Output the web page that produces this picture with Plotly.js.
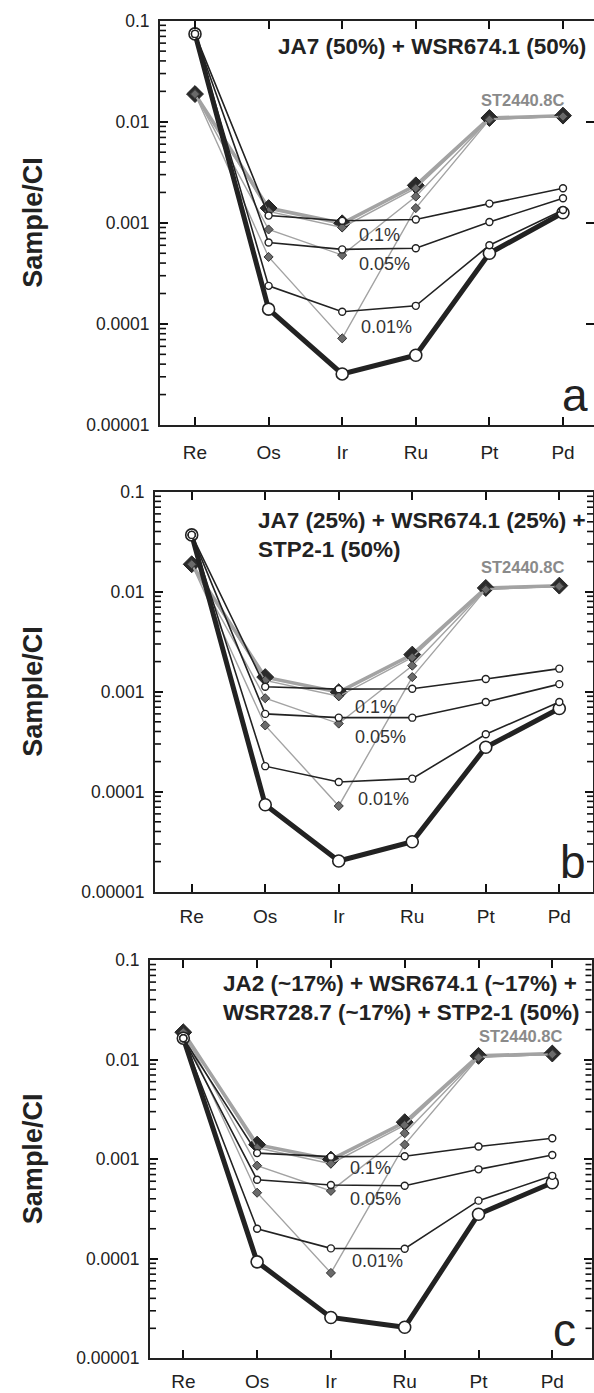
<!DOCTYPE html>
<html>
<head>
<meta charset="utf-8">
<script src="https://cdn.plot.ly/plotly-3.0.1.min.js"></script>
<style>html,body{margin:0;padding:0;background:#fff;}#chart{width:594px;height:1393px;}</style>
</head>
<body>
<div id="chart"></div>
<script>
// ---- data ----
const elements = ['Re', 'Os', 'Ir', 'Ru', 'Pt', 'Pd'];
const yTickVals = [0.00001, 0.0001, 0.001, 0.01, 0.1];
const yTickText = ['0.00001', '0.0001', '0.001', '0.01', '0.1'];

// ST2440.8C and its mixtures (grey, diamonds) – same in every panel
const st2440 = [0.0188, 0.0014, 0.00099, 0.00235, 0.0109, 0.0115];
const stMixA = [0.0188, 0.0013, 0.0009, 0.0022, 0.0107, 0.0113];
const stMixB = [0.0188, 0.00086, 0.00048, 0.00182, 0.0106, 0.0113];
const stMixC = [0.0188, 0.00046, 0.000072, 0.0014, 0.0105, 0.0113];

// Panel a: JA7 (50%) + WSR674.1 (50%)
const aMix = [0.074, 0.00014, 0.000032, 0.000049, 0.0005, 0.00126];
const aMix01 = [0.074, 0.00118, 0.00105, 0.00108, 0.00155, 0.0022];
const aMix005 = [0.074, 0.00064, 0.000546, 0.00056, 0.00102, 0.00175];
const aMix001 = [0.074, 0.000238, 0.000132, 0.000151, 0.0006, 0.00134];

// Panel b: JA7 (25%) + WSR674.1 (25%) + STP2-1 (50%)
const bMix = [0.037, 0.000074, 0.0000203, 0.0000316, 0.000278, 0.00068];
const bMix01 = [0.037, 0.00112, 0.00106, 0.00107, 0.00134, 0.0017];
const bMix005 = [0.037, 0.0006, 0.00055, 0.00055, 0.00079, 0.00119];
const bMix001 = [0.037, 0.00018, 0.000125, 0.000135, 0.000375, 0.00079];

// Panel c: JA2 + WSR674.1 + WSR728.7 + STP2-1
const cMix = [0.0164, 0.000093, 0.0000257, 0.0000205, 0.00028, 0.00058];
const cMix01 = [0.0164, 0.00115, 0.00106, 0.00107, 0.00134, 0.00162];
const cMix005 = [0.0164, 0.00062, 0.00055, 0.00054, 0.00079, 0.0011];
const cMix001 = [0.0164, 0.0002, 0.000127, 0.000126, 0.000383, 0.00068];

const panelTitles = [
  'JA7 (50%) + WSR674.1 (50%)',
  'JA7 (25%) + WSR674.1 (25%) +<br>STP2-1 (50%)',
  'JA2 (~17%) + WSR674.1 (~17%) +<br>WSR728.7 (~17%) + STP2-1 (50%)'
];
const panelLetters = ['a', 'b', 'c'];
const pctLabels = ['0.1%', '0.05%', '0.01%'];

// ---- minor log tick positions (2..9 in each decade) ----
const minorVals = [];
for (let e = -5; e < -1; e++) {
  for (let m = 2; m <= 9; m++) minorVals.push(m * Math.pow(10, e));
}

// ---- page geometry (pixels) ----
const W = 594, H = 1393;
const FONT = 'Liberation Sans, Arial, Helvetica, sans-serif';
const px = x => x / W;
const py = y => 1 - y / H;

const panels = [
  {mix: aMix, m01: aMix01, m005: aMix005, m001: aMix001,
   left: 160, right: 594, top: 20.7, bottom: 425, re: 195, step: 73.6, xstand: 9,
   title: {x: 588, y: 46, xanchor: 'right'},
   st: {x: 523, y: 100}, letter: {x: 575, y: 395},
   pct: [[357, 235], [357, 264], [359, 327]]},
  {mix: bMix, m01: bMix01, m005: bMix005, m001: bMix001,
   left: 155, right: 593, top: 491.7, bottom: 891.7, re: 191.7, step: 73.52, xstand: 6,
   title: {x: 256, y: 534.5, xanchor: 'left'},
   st: {x: 523, y: 567}, letter: {x: 573, y: 862},
   pct: [[353, 707], [353, 737], [356, 799]]},
  {mix: cMix, m01: cMix01, m005: cMix005, m001: cMix001,
   left: 150, right: 591.5, top: 960, bottom: 1358.3, re: 183.3, step: 73.8, xstand: 5,
   title: {x: 221, y: 998, xanchor: 'left'},
   st: {x: 521, y: 1036}, letter: {x: 564, y: 1330},
   pct: [[348, 1168], [348, 1199], [350, 1261]]}
];

const traces = [];
const layout = {
  width: W, height: H,
  margin: {l: 0, r: 0, t: 0, b: 0},
  paper_bgcolor: '#fff', plot_bgcolor: 'rgba(0,0,0,0)',
  showlegend: false,
  font: {family: FONT, color: '#222'},
  annotations: [],
  shapes: []
};

const DARK = '#222';
const GREY = '#a3a3a3';

panels.forEach((p, i) => {
  const n = i === 0 ? '' : String(i + 1);
  const xa = 'x' + n, ya = 'y' + n;
  const xr0 = (p.left - p.re) / p.step;
  const xr1 = (p.right - p.re) / p.step;

  layout['xaxis' + n] = {
    domain: [px(p.left), Math.min(1, px(p.right))],
    anchor: ya,
    type: 'category',
    range: [xr0, xr1],
    showgrid: false, zeroline: false,
    showline: true, linecolor: DARK, linewidth: 2,
    mirror: 'allticks', ticks: 'inside', ticklen: 8, tickwidth: 2, tickcolor: '#111',
    ticklabelstandoff: p.xstand,
    tickfont: {family: FONT, size: 19, color: DARK},
    layer: 'above traces',
    fixedrange: true
  };
  layout['yaxis' + n] = {
    domain: [py(p.bottom), py(p.top)],
    anchor: xa,
    type: 'log',
    range: [-5, -1],
    tickmode: 'array', tickvals: yTickVals, ticktext: yTickText,
    showgrid: false, zeroline: false,
    showline: true, linecolor: DARK, linewidth: 2,
    mirror: 'allticks', ticks: 'inside', ticklen: 8, tickwidth: 2, tickcolor: '#111',
    ticklabelstandoff: 5,
    tickfont: {family: FONT, size: 17.5, color: DARK},
    layer: 'above traces',
    fixedrange: true
  };

  // minor log tick marks (axis furniture), placed on the axis' own log scale
  const hPx = p.bottom - p.top;
  minorVals.forEach(v => {
    const yPix = p.top + (-1 - Math.log10(v)) / 4 * hPx;
    layout.shapes.push({type: 'line', xref: 'paper', yref: 'paper', layer: 'above',
      x0: px(p.left), x1: px(p.left + 6), y0: py(yPix), y1: py(yPix),
      line: {color: '#111', width: 1.6}});
    if (p.right < W) {
      layout.shapes.push({type: 'line', xref: 'paper', yref: 'paper', layer: 'above',
        x0: px(p.right), x1: px(p.right - 6), y0: py(yPix), y1: py(yPix),
        line: {color: '#111', width: 1.6}});
    }
  });

  const common = {x: elements, xaxis: xa, yaxis: ya, mode: 'lines+markers', hoverinfo: 'skip'};

  // ST2440.8C (thick grey with large dark diamonds)
  traces.push(Object.assign({}, common, {
    y: st2440, line: {color: GREY, width: 3.5},
    marker: {symbol: 'diamond', size: 13, color: '#2a2a2a', line: {color: '#222', width: 1}}
  }));
  // grey mixing lines with small diamonds
  [stMixA, stMixB, stMixC].forEach(arr => {
    traces.push(Object.assign({}, common, {
      y: arr, line: {color: GREY, width: 1.4},
      marker: {symbol: 'diamond', size: 7, color: '#6a6a6a', line: {color: '#333', width: 1}}
    }));
  });
  // thick black mixture with large open circles
  traces.push(Object.assign({}, common, {
    y: p.mix, line: {color: DARK, width: 5},
    marker: {symbol: 'circle', size: 12, color: '#fff', line: {color: DARK, width: 1.6}}
  }));
  // thin black lines with small open circles
  [p.m01, p.m005, p.m001].forEach(arr => {
    traces.push(Object.assign({}, common, {
      y: arr, line: {color: DARK, width: 1.6},
      marker: {symbol: 'circle', size: 7, color: '#fff', line: {color: DARK, width: 1.4}}
    }));
  });

  // y-axis title
  layout.annotations.push({
    xref: 'paper', yref: 'paper', x: px(33), y: py((p.top + p.bottom) / 2),
    text: '<b>Sample/CI</b>', textangle: -90, showarrow: false,
    xanchor: 'center', yanchor: 'middle',
    font: {family: FONT, size: 27, color: DARK}
  });
  // mixture title
  layout.annotations.push({
    xref: 'paper', yref: 'paper', x: px(p.title.x), y: py(p.title.y),
    text: '<b>' + panelTitles[i] + '</b>', showarrow: false,
    xanchor: p.title.xanchor, yanchor: 'middle', align: 'left',
    font: {family: FONT, size: 22.5, color: DARK}
  });
  // ST2440.8C label
  layout.annotations.push({
    xref: 'paper', yref: 'paper', x: px(p.st.x), y: py(p.st.y),
    text: '<b>ST2440.8C</b>', showarrow: false,
    xanchor: 'center', yanchor: 'middle',
    font: {family: FONT, size: 16.5, color: '#8a8a8a'}
  });
  // percent labels
  pctLabels.forEach((t, k) => {
    layout.annotations.push({
      xref: 'paper', yref: 'paper', x: px(p.pct[k][0]), y: py(p.pct[k][1]),
      text: t, showarrow: false, xanchor: 'left', yanchor: 'middle',
      font: {family: FONT, size: 18, color: '#333'}
    });
  });
  // panel letter
  layout.annotations.push({
    xref: 'paper', yref: 'paper', x: px(p.letter.x), y: py(p.letter.y),
    text: panelLetters[i], showarrow: false, xanchor: 'center', yanchor: 'middle',
    font: {family: FONT, size: 46, color: DARK}
  });
});

Plotly.newPlot('chart', traces, layout, {staticPlot: true, displayModeBar: false});
</script>
</body>
</html>
